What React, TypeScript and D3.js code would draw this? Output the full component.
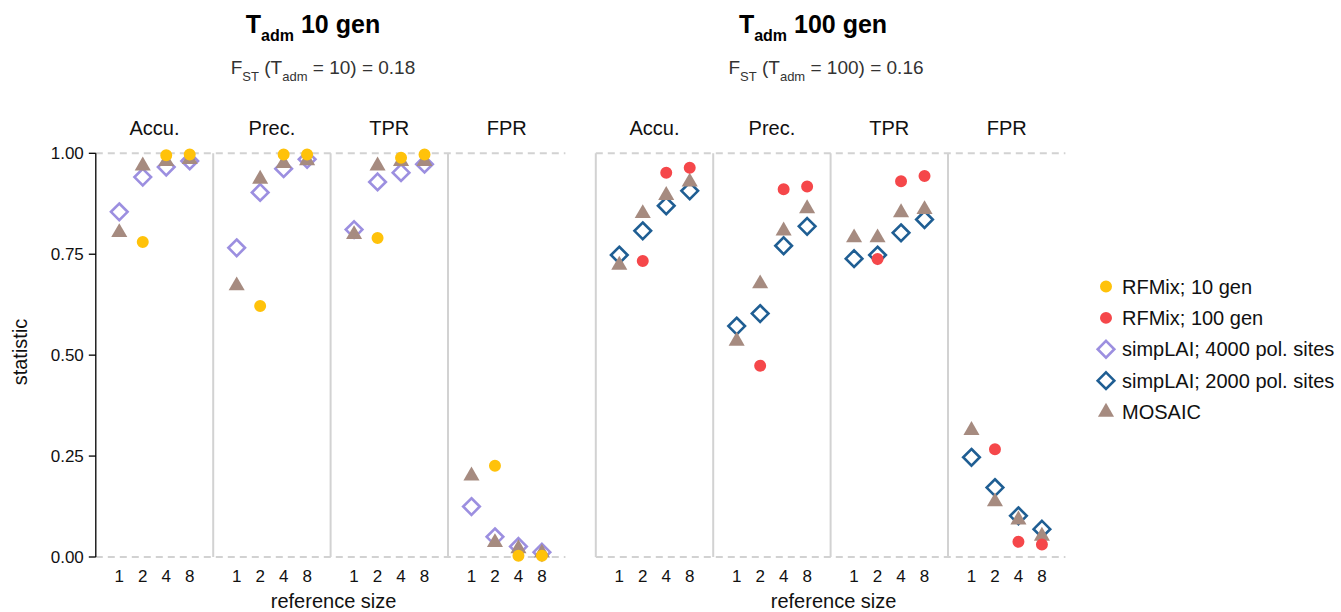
import React from "react";
import * as d3 from "d3";

const sizes = ["1", "2", "4", "8"];
const stats = ["Accu.", "Prec.", "TPR", "FPR"];
const yTicks = [0, 0.25, 0.5, 0.75, 1];

// values ordered by statistic (Accu., Prec., TPR, FPR) then reference size (1, 2, 4, 8)
const rfmix10 = [null, 0.78, 0.995, 0.997, null, 0.622, 0.997, 0.997, null, 0.79, 0.989, 0.997, null, 0.226, 0.003, 0.003];
const simp4000 = [0.855, 0.941, 0.966, 0.981, 0.766, 0.903, 0.962, 0.985, 0.811, 0.929, 0.952, 0.973, 0.125, 0.05, 0.026, 0.012];
const mosaic10 = [0.804, 0.969, 0.98, 0.985, 0.672, 0.936, 0.975, 0.982, 0.799, 0.969, 0.98, 0.98, 0.201, 0.036, 0.021, 0.01];
const rfmix100 = [null, 0.733, 0.952, 0.964, null, 0.474, 0.911, 0.918, null, 0.738, 0.931, 0.944, null, 0.267, 0.038, 0.031];
const simp2000 = [0.748, 0.808, 0.87, 0.907, 0.572, 0.603, 0.771, 0.819, 0.739, 0.748, 0.803, 0.836, 0.247, 0.172, 0.102, 0.069];
const mosaic100 = [0.723, 0.851, 0.896, 0.929, 0.535, 0.677, 0.808, 0.863, 0.791, 0.791, 0.853, 0.861, 0.314, 0.137, 0.092, 0.052];

const legendLabels = ["RFMix; 10 gen", "RFMix; 100 gen", "simpLAI; 4000 pol. sites", "simpLAI; 2000 pol. sites", "MOSAIC"];

const C_GOLD = "#FFC20A";
const C_RED = "#F5474A";
const C_LAV = "#9C8FE0";
const C_BLUE = "#1F5E93";
const C_BROWN = "#A68B80";
const GRID = "#d2d2d2";
const FONT = "'Liberation Sans', Arial, Helvetica, sans-serif";

const y = d3.scaleLinear().domain([0, 1]).range([557, 153.3]);
const PANEL_W = 117.4;

const circlePath = d3.symbol(d3.symbolCircle, 113)()!;
const trianglePath = d3.symbol(d3.symbolTriangle, 112)()!;
const diamondPath = "M0,-8.3L8.3,0L0,8.3L-8.3,0Z";

type Series = { values: (number | null)[]; kind: "circle" | "diamond" | "triangle"; color: string };

function Marker({ kind, color, x, yy }: { kind: string; color: string; x: number; yy: number }) {
  if (kind === "circle") return <path d={circlePath} transform={`translate(${x},${yy})`} fill={color} />;
  if (kind === "triangle") return <path d={trianglePath} transform={`translate(${x},${yy})`} fill={color} />;
  return <path d={diamondPath} transform={`translate(${x},${yy})`} fill="none" stroke={color} strokeWidth={2.6} />;
}

function Chart({ x0, series, showAxis }: { x0: number; series: Series[]; showAxis: boolean }) {
  const panel = d3.scaleBand<string>().domain(stats).range([x0, x0 + PANEL_W * 4]);
  const xs = d3.scalePoint<string>().domain(sizes).range([0, panel.bandwidth()]).padding(1);
  const [x1, x2] = panel.range();
  return (
    <g>
      {[0, 1].map((v) => (
        <line key={v} x1={x1} x2={x2} y1={y(v)} y2={y(v)} stroke={GRID} strokeWidth={2} strokeDasharray="7,5" />
      ))}
      {stats.map((s, i) =>
        i === 0 && showAxis ? null : (
          <line key={s} x1={panel(s)!} x2={panel(s)!} y1={y(1)} y2={y(0)} stroke={GRID} strokeWidth={2} />
        )
      )}
      {showAxis && (
        <g>
          <line x1={x1} x2={x1} y1={y(1)} y2={y(0)} stroke="#000" strokeWidth={1.3} />
          {yTicks.map((t) => (
            <g key={t}>
              <line x1={x1 - 7} x2={x1} y1={y(t)} y2={y(t)} stroke="#000" strokeWidth={1.3} />
              <text x={x1 - 12} y={y(t)} dy="0.36em" textAnchor="end" fontSize={17} fill="#111">
                {d3.format(".2f")(t)}
              </text>
            </g>
          ))}
        </g>
      )}
      {stats.map((s) => (
        <g key={s}>
          <text x={panel(s)! + panel.bandwidth() / 2} y={135} textAnchor="middle" fontSize={20} fill="#111">
            {s}
          </text>
          {sizes.map((sz) => (
            <text key={sz} x={panel(s)! + xs(sz)!} y={582} textAnchor="middle" fontSize={17} fill="#111">
              {sz}
            </text>
          ))}
        </g>
      ))}
      {series.map((se, k) => (
        <g key={k}>
          {se.values.map((v, i) => {
            if (v === null) return null;
            const s = stats[Math.floor(i / 4)];
            const sz = sizes[i % 4];
            return <Marker key={i} kind={se.kind} color={se.color} x={panel(s)! + xs(sz)!} yy={y(v)} />;
          })}
        </g>
      ))}
      <text x={(x1 + x2) / 2 + 3} y={608} textAnchor="middle" fontSize={20} fill="#111">
        reference size
      </text>
    </g>
  );
}

function Title({ cx, gen }: { cx: number; gen: string }) {
  return (
    <text x={cx} y={33} textAnchor="middle" fontSize={25} fontWeight="bold" fill="#000">
      T<tspan dy={8} fontSize={16}>adm</tspan>
      <tspan dy={-8}>{` ${gen} gen`}</tspan>
    </text>
  );
}

function Subtitle({ cx, gen, fst }: { cx: number; gen: string; fst: string }) {
  return (
    <text x={cx} y={74} textAnchor="middle" fontSize={19} fill="#333">
      F<tspan dy={7} fontSize={13}>ST</tspan>
      <tspan dy={-7}>{" (T"}</tspan>
      <tspan dy={7} fontSize={13}>adm</tspan>
      <tspan dy={-7}>{` = ${gen}) = ${fst}`}</tspan>
    </text>
  );
}

export default function App() {
  const leftSeries: Series[] = [
    { values: simp4000, kind: "diamond", color: C_LAV },
    { values: mosaic10, kind: "triangle", color: C_BROWN },
    { values: rfmix10, kind: "circle", color: C_GOLD },
  ];
  const rightSeries: Series[] = [
    { values: simp2000, kind: "diamond", color: C_BLUE },
    { values: mosaic100, kind: "triangle", color: C_BROWN },
    { values: rfmix100, kind: "circle", color: C_RED },
  ];
  const legendKinds = ["circle", "circle", "diamond", "diamond", "triangle"];
  const legendColors = [C_GOLD, C_RED, C_LAV, C_BLUE, C_BROWN];
  const ly = d3.scalePoint<string>().domain(legendLabels).range([286.5, 412]);
  return (
    <svg
      width={1341}
      height={612}
      style={{ position: "absolute", left: 0, top: 0, display: "block", background: "#fff" }}
      fontFamily={FONT}
    >
      <rect width={1341} height={612} fill="#fff" />
      <Title cx={313} gen="10" />
      <Subtitle cx={323} gen="10" fst="0.18" />
      <Title cx={813} gen="100" />
      <Subtitle cx={826} gen="100" fst="0.16" />
      <text transform={`translate(27,${352}) rotate(-90)`} textAnchor="middle" fontSize={20} fill="#111">
        statistic
      </text>
      <Chart x0={95.8} series={leftSeries} showAxis={true} />
      <Chart x0={595.8} series={rightSeries} showAxis={false} />
      {legendLabels.map((l, i) => (
        <g key={l}>
          <Marker kind={legendKinds[i]} color={legendColors[i]} x={1106} yy={ly(l)!} />
          <text x={1122} y={ly(l)!} dy="0.36em" fontSize={20} fill="#111">
            {l}
          </text>
        </g>
      ))}
    </svg>
  );
}
